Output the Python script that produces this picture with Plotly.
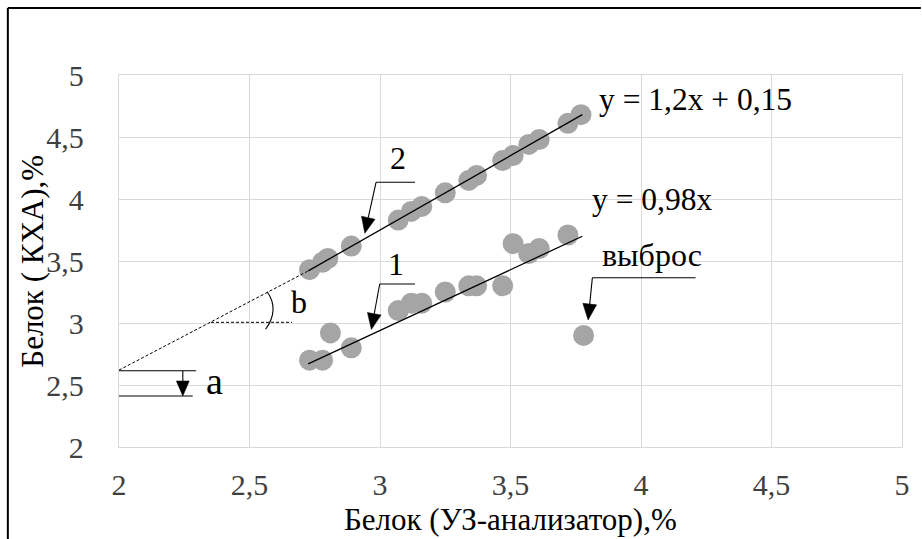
import plotly.graph_objects as go
import math

# ---------------- data ----------------
x_upper = [2.73, 2.78, 2.80, 2.89, 3.07, 3.12, 3.16, 3.25, 3.34, 3.37, 3.47, 3.51, 3.57, 3.61, 3.72, 3.77]
y_upper = [3.43, 3.49, 3.52, 3.62, 3.83, 3.90, 3.94, 4.05, 4.15, 4.19, 4.31, 4.35, 4.44, 4.48, 4.61, 4.68]
x_lower = [2.73, 2.78, 2.81, 2.89, 3.07, 3.12, 3.16, 3.25, 3.34, 3.37, 3.47, 3.51, 3.57, 3.61, 3.72]
y_lower = [2.70, 2.70, 2.92, 2.80, 3.10, 3.16, 3.16, 3.25, 3.30, 3.30, 3.30, 3.64, 3.56, 3.60, 3.71]
x_outlier = [3.78]
y_outlier = [2.90]

trend1_slope, trend1_intercept = 0.98, 0.0
trend2_slope, trend2_intercept = 1.2, 0.15
trend_x_range = [2.725, 3.775]
trend2_ext_start = [2.0, 2.62]

x_tick_vals = [2, 2.5, 3, 3.5, 4, 4.5, 5]
x_tick_text = ["2", "2,5", "3", "3,5", "4", "4,5", "5"]
y_tick_vals = [2, 2.5, 3, 3.5, 4, 4.5, 5]
y_tick_text = ["2", "2,5", "3", "3,5", "4", "4,5", "5"]

eq1_text = "y = 0,98x"
eq2_text = "y = 1,2x + 0,15"
x_title = "Белок (УЗ-анализатор),%"
y_title = "Белок ( КХА),%"

# ---------------- geometry helpers ----------------
W, H = 922, 539
L, R, T, B = 119, 14, 75, 92
PX0, PX1 = L, W - R
PY0, PY1 = H - B, T   # y=2 at PY0, y=5 at PY1
FONT = "Liberation Serif"


def d(px, py):
    return (2 + 3 * (px - PX0) / (PX1 - PX0), 2 + 3 * (PY0 - py) / (PY0 - PY1))


def pp(px, py):
    return ((px - PX0) / (PX1 - PX0), (PY0 - py) / (PY0 - PY1))


shapes = []
annotations = []


def line_px(p0, p1, dash=None, width=1.1, color="black"):
    a = d(*p0)
    b = d(*p1)
    ln = dict(color=color, width=width)
    if dash:
        ln["dash"] = dash
    shapes.append(dict(type="line", xref="x", yref="y", x0=a[0], y0=a[1], x1=b[0], y1=b[1], line=ln))


def arrow_px(corner, tip, head_len=16, head_w=14):
    dx, dy = tip[0] - corner[0], tip[1] - corner[1]
    n = math.hypot(dx, dy)
    ux, uy = dx / n, dy / n
    bx, by = tip[0] - ux * head_len, tip[1] - uy * head_len
    line_px(corner, (bx, by))
    px_, py_ = -uy, ux
    p1 = (bx + px_ * head_w / 2, by + py_ * head_w / 2)
    p2 = (bx - px_ * head_w / 2, by - py_ * head_w / 2)
    pts = [d(*tip), d(*p1), d(*p2)]
    path = "M {} {} L {} {} L {} {} Z".format(pts[0][0], pts[0][1], pts[1][0], pts[1][1], pts[2][0], pts[2][1])
    shapes.append(dict(type="path", xref="x", yref="y", path=path, fillcolor="black", line=dict(color="black", width=0.5)))


def text_px(txt, px, py, size, xanchor="center", color="black"):
    x, y = d(px, py)
    annotations.append(dict(x=x, y=y, xref="x", yref="y", text=txt, showarrow=False, xanchor=xanchor,
                            yanchor="middle", font=dict(family=FONT, size=size, color=color)))


# ---------------- figure ----------------
fig = go.Figure()

fig.add_trace(go.Scatter(x=x_upper, y=y_upper, mode="markers",
                         marker=dict(size=21, color="#A5A5A5", line=dict(width=0)), hoverinfo="skip"))
fig.add_trace(go.Scatter(x=x_lower + x_outlier, y=y_lower + y_outlier, mode="markers",
                         marker=dict(size=21, color="#A5A5A5", line=dict(width=0)), hoverinfo="skip"))

tx = trend_x_range
fig.add_trace(go.Scatter(x=tx, y=[trend1_slope * v + trend1_intercept for v in tx], mode="lines",
                         line=dict(color="black", width=1.3), hoverinfo="skip"))
fig.add_trace(go.Scatter(x=tx, y=[trend2_slope * v + trend2_intercept for v in tx], mode="lines",
                         line=dict(color="black", width=1.3), hoverinfo="skip"))

# dashed extension of trend 2 towards the y axis
shapes.append(dict(type="line", xref="x", yref="y", x0=trend2_ext_start[0], y0=trend2_ext_start[1],
                   x1=tx[0], y1=trend2_slope * tx[0] + trend2_intercept,
                   line=dict(color="black", width=1, dash="3px,2px")))
# horizontal dashed line for angle b
line_px((211.7, 322.3), (293.3, 322.3), dash="3px,2px", width=1)
# arc for angle b
a0 = d(268.3, 291.7)
ac = d(281.0, 309.5)
a1 = d(266.7, 329.3)
shapes.append(dict(type="path", xref="x", yref="y",
                   path="M {} {} Q {} {} {} {}".format(a0[0], a0[1], ac[0], ac[1], a1[0], a1[1]),
                   line=dict(color="black", width=1.1)))
text_px("b", 300.5, 302, 32)

# intercept marker a
line_px((119, 370.7), (196.7, 370.7))
line_px((119, 396), (193.3, 396))
arrow_px((183.3, 370.7), (183.3, 396), head_len=15, head_w=13)
text_px("a", 215, 381, 38)

# label 2
line_px((378, 182.3), (417.3, 182.3))
arrow_px((378, 182.3), (366.7, 233.3))
text_px("2", 400.5, 158, 32)

# label 1
line_px((381.7, 284), (417.3, 284))
arrow_px((381.7, 284), (373.3, 329.5))
text_px("1", 398.5, 264, 32)

# outlier label
line_px((596, 277.7), (700, 277.7))
arrow_px((596, 277.7), (591.7, 320))
text_px("выброс", 656, 255, 32)

# equations
text_px(eq2_text, 601, 99, 31.5, xanchor="left")
text_px(eq1_text, 594, 199, 31.5, xanchor="left")

# axis titles
xt = pp(513.5, 519)
annotations.append(dict(x=xt[0], y=xt[1], xref="paper", yref="paper", text=x_title, showarrow=False,
                        xanchor="center", yanchor="middle", font=dict(family=FONT, size=31, color="black")))
yt = pp(31, 261)
annotations.append(dict(x=yt[0], y=yt[1], xref="paper", yref="paper", text=y_title, showarrow=False,
                        textangle=-90, xanchor="center", yanchor="middle",
                        font=dict(family=FONT, size=31, color="black")))

# outer frame (top and left)
f_l = pp(7, 8)
f_r = pp(W + 5, 8)
f_b = pp(7, H + 5)
shapes.append(dict(type="line", xref="paper", yref="paper", x0=f_l[0], y0=f_l[1], x1=f_r[0], y1=f_r[1],
                   line=dict(color="black", width=2)))
shapes.append(dict(type="line", xref="paper", yref="paper", x0=f_l[0], y0=f_l[1], x1=f_b[0], y1=f_b[1],
                   line=dict(color="black", width=2)))

axis_common = dict(showgrid=True, gridcolor="#D9D9D9", gridwidth=1.3, zeroline=False,
                   showline=True, linecolor="#D9D9D9", linewidth=1.3, mirror=True, ticks="",
                   tickfont=dict(family=FONT, size=30, color="#404040"), fixedrange=True)

fig.update_layout(
    width=W, height=H,
    margin=dict(l=L, r=R, t=T, b=B, pad=0),
    plot_bgcolor="white", paper_bgcolor="white",
    showlegend=False,
    font=dict(family=FONT),
    xaxis=dict(range=[2, 5], tickvals=x_tick_vals, ticktext=x_tick_text, ticklabelstandoff=11, **axis_common),
    yaxis=dict(range=[2, 5], tickvals=y_tick_vals, ticktext=y_tick_text, ticklabelstandoff=28, **axis_common),
    shapes=shapes,
    annotations=annotations,
)

fig.write_html("out.html", config={"displayModeBar": False},
               post_script="document.body.style.margin='0';document.body.style.overflow='hidden';")
